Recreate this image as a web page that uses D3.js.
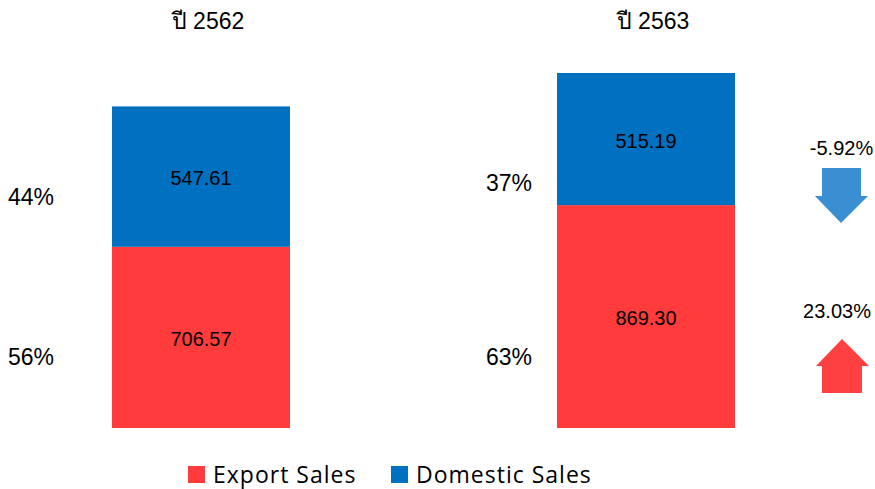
<!DOCTYPE html>
<html>
<head>
<meta charset="utf-8">
<script src="https://cdn.jsdelivr.net/npm/d3@7"></script>
<style>
  body { margin: 0; background: #fff; }
  text { font-family: "Liberation Sans", Arial, "Noto Sans", sans-serif; fill: #000; }
</style>
</head>
<body>
<div id="chart"></div>
<script>
// data
var years = ["ปี 2562", "ปี 2563"];
var exportSales = [706.57, 869.30];
var domesticSales = [547.61, 515.19];
var exportPct = ["56%", "63%"];
var domesticPct = ["44%", "37%"];
var seriesNames = ["Export Sales", "Domestic Sales"];
var changes = ["-5.92%", "23.03%"];   // domestic, export

var width = 875, height = 489;
var colors = { "Export Sales": "#ff3b3b", "Domestic Sales": "#0070c0" };

var svg = d3.select("#chart").append("svg")
    .attr("width", width)
    .attr("height", height);

// scales
var x = d3.scaleBand().domain(years).range([0.75, 846.25]).paddingInner(0.6).paddingOuter(0.25);
var y = d3.scaleLinear().domain([0, 1384.49]).range([428, 73]);

var rows = years.map(function(yr, i) {
    return { year: yr, "Export Sales": exportSales[i], "Domestic Sales": domesticSales[i] };
});
var stack = d3.stack().keys(seriesNames)(rows);

var layers = svg.selectAll(".layer")
    .data(stack)
  .enter().append("g")
    .attr("class", "layer")
    .attr("fill", function(d) { return colors[d.key]; });

layers.selectAll("rect")
    .data(function(d) { return d; })
  .enter().append("rect")
    .attr("x", function(d) { return x(d.data.year); })
    .attr("y", function(d) { return y(d[1]); })
    .attr("width", x.bandwidth())
    .attr("height", function(d) { return y(d[0]) - y(d[1]); });

// value labels in the middle of each segment
layers.selectAll("text")
    .data(function(d) { return d.map(function(p) { return { p: p, key: d.key }; }); })
  .enter().append("text")
    .attr("x", function(d) { return x(d.p.data.year) + x.bandwidth() / 2; })
    .attr("y", function(d) { return (y(d.p[0]) + y(d.p[1])) / 2 + 1.5; })
    .attr("dy", "0.35em")
    .attr("text-anchor", "middle")
    .style("font-size", "20px")
    .text(function(d) { return d3.format(".2f")(d.p.data[d.key]); });

// year titles
svg.selectAll(".title")
    .data(years)
  .enter().append("text")
    .attr("class", "title")
    .attr("x", function(d) { return x(d) + x.bandwidth() / 2 + 7; })
    .attr("y", 29)
    .attr("text-anchor", "middle")
    .style("font-size", "23px")
    .text(function(d) { return d; });

// percentage labels to the left of each bar
var pctLeft = [8, 486];
var domPctY = [196.5, 183];
svg.selectAll(".pctDom")
    .data(domesticPct)
  .enter().append("text")
    .attr("x", function(d, i) { return pctLeft[i]; })
    .attr("y", function(d, i) { return domPctY[i]; })
    .attr("dy", "0.35em")
    .style("font-size", "23px")
    .text(function(d) { return d; });
svg.selectAll(".pctExp")
    .data(exportPct)
  .enter().append("text")
    .attr("x", function(d, i) { return pctLeft[i]; })
    .attr("y", 357)
    .attr("dy", "0.35em")
    .style("font-size", "23px")
    .text(function(d) { return d; });

// change arrows
svg.append("text")
    .attr("x", 841.5).attr("y", 147.5).attr("dy", "0.35em")
    .attr("text-anchor", "middle")
    .style("font-size", "20px")
    .text(changes[0]);
svg.append("path")
    .attr("d", "M822,168 L861,168 L861,196 L868,196 L841,223 L815,196 L822,196 Z")
    .attr("fill", "#3a8fd2");

svg.append("text")
    .attr("x", 837).attr("y", 311).attr("dy", "0.35em")
    .attr("text-anchor", "middle")
    .style("font-size", "20px")
    .text(changes[1]);
svg.append("path")
    .attr("d", "M842,339 L869,366 L862,366 L862,393 L822,393 L822,366 L816,366 Z")
    .attr("fill", "#ff4040");

// legend
var legendX = [188, 391];
var legend = svg.selectAll(".legend")
    .data(seriesNames)
  .enter().append("g")
    .attr("class", "legend")
    .attr("transform", function(d, i) { return "translate(" + legendX[i] + ",466)"; });
legend.append("rect")
    .attr("width", 17).attr("height", 17)
    .attr("fill", function(d) { return colors[d]; });
legend.append("text")
    .attr("x", 25).attr("y", 8.5).attr("dy", "0.35em")
    .style("font-family", "'Open Sans', sans-serif")
    .style("font-size", "23px")
    .style("letter-spacing", "1px")
    .text(function(d) { return d; });
</script>
</body>
</html>
